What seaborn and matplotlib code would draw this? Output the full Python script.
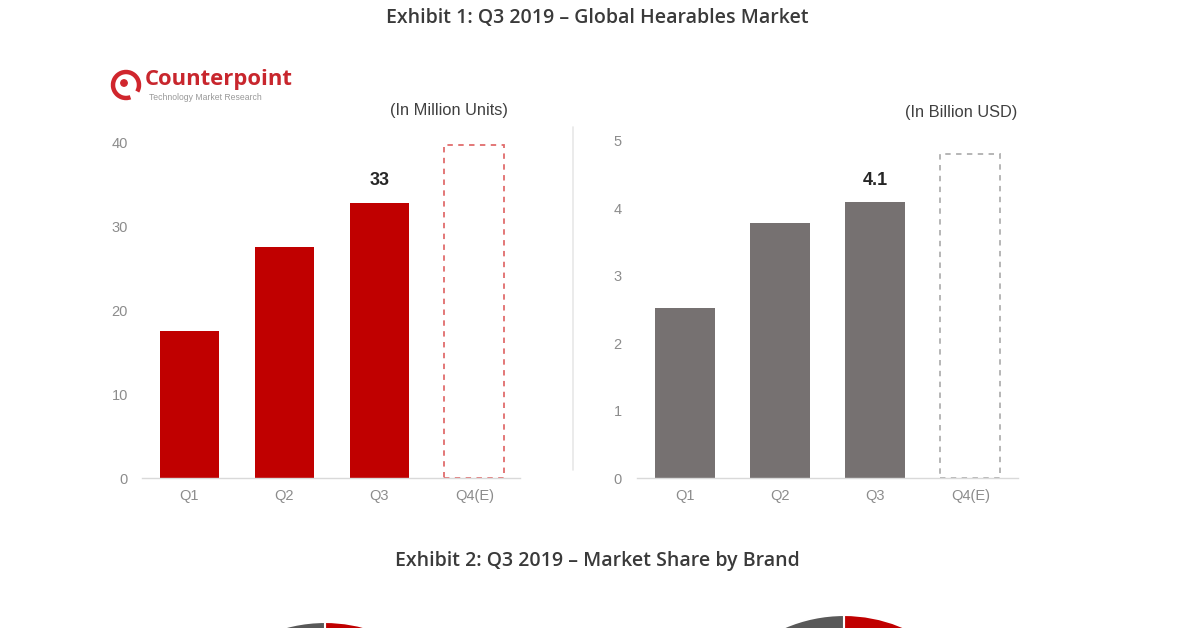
import matplotlib
matplotlib.use("Agg")
import matplotlib.pyplot as plt
import seaborn as sns
import pandas as pd
from matplotlib.patches import Arc, Circle
from matplotlib.lines import Line2D

# ---------------- data ----------------
quarters = ["Q1", "Q2", "Q3", "Q4(E)"]
units_million = [17.5, 27.5, 32.7, 39.6]
revenue_billion = [2.52, 3.78, 4.1, 4.8]
units_label = ["", "", "33", ""]
revenue_label = ["", "", "4.1", ""]
units_ticks = [0, 10, 20, 30, 40]
revenue_ticks = [0, 1, 2, 3, 4, 5]
share_units = [45, 55]      # red brand, grey rest (only the top of the pie is visible)
share_revenue = [48, 52]

RED = "#c00000"
GREY = "#767171"

sns.set_theme(style="white")
plt.rcParams["font.family"] = ["Liberation Sans", "DejaVu Sans"]

W, H = 1200, 628
fig = plt.figure(figsize=(W / 100, H / 100), dpi=100)
fig.patch.set_facecolor("white")


def px_axes(x0, y0, x1, y1):
    return fig.add_axes([x0 / W, 1 - y1 / H, (x1 - x0) / W, (y1 - y0) / H])


def bar_panel(ax, values, labels, ticks, color, outline, ylim, pad_x, pad_lbl):
    df = pd.DataFrame({"q": quarters, "v": values})
    sns.barplot(data=df, x="q", y="v", color=color, width=0.63, saturation=1,
                ax=ax, edgecolor=color, linewidth=0)
    last = ax.patches[3]
    last.set_facecolor("none")
    last.set_edgecolor(outline)
    last.set_linewidth(1.3)
    last.set_linestyle((0, (3, 3)))
    ax.bar_label(ax.containers[0], labels=labels, padding=pad_lbl,
                 fontsize=13, fontweight="bold", color="#262626")
    ax.set_xlim(-0.5, 3.48)
    ax.set_ylim(*ylim)
    ax.set_yticks(ticks)
    ax.set_xlabel("")
    ax.set_ylabel("")
    for s in ["left", "right", "top"]:
        ax.spines[s].set_visible(False)
    ax.spines["bottom"].set_color("#d9d9d9")
    ax.spines["bottom"].set_linewidth(1.0)
    ax.tick_params(axis="y", length=0, pad=pad_x, labelsize=10.5, labelcolor="#8c8c8c")
    ax.tick_params(axis="x", length=0, pad=8, labelsize=10.5, labelcolor="#8c8c8c")
    ax.set_facecolor("none")


ax1 = px_axes(142, 142, 520, 478)
bar_panel(ax1, units_million, units_label, units_ticks, RED, "#e06c6c", (0, 40), 10, 10)

ax2 = px_axes(637, 141, 1018, 478)
bar_panel(ax2, revenue_billion, revenue_label, revenue_ticks, GREY, "#b0b0b0", (0, 5), 11, 9)
ax2.set_xlim(-0.5, 3.5)

# divider
fig.add_artist(Line2D([573 / W, 573 / W], [1 - 127 / H, 1 - 470 / H],
                      color="#e8e8e8", lw=1.2, transform=fig.transFigure))

# titles
fig.text(597 / W, 1 - 18 / H, "Exhibit 1: Q3 2019 \u2013 Global Hearables Market",
         ha="center", va="center", fontsize=14, fontweight="semibold",
         color="#3a3a3a", family=["Open Sans", "DejaVu Sans"])
fig.text(597 / W, 1 - 561 / H, "Exhibit 2: Q3 2019 \u2013 Market Share by Brand",
         ha="center", va="center", fontsize=14, fontweight="semibold",
         color="#3a3a3a", family=["Open Sans", "DejaVu Sans"])

# unit notes
fig.text(508 / W, 1 - 110 / H, "(In Million Units)", ha="right", va="center",
         fontsize=11.8, color="#404040")
fig.text(1017 / W, 1 - 112 / H, "(In Billion USD)", ha="right", va="center",
         fontsize=11.8, color="#404040")

# logo
lax = px_axes(100, 60, 300, 110)
lax.set_xlim(100, 300)
lax.set_ylim(110, 60)
lax.axis("off")
lax.add_patch(Arc((126, 85), 26, 26, theta1=70, theta2=390, color="#d0262d", lw=3.2))
lax.add_patch(Circle((124, 83), 3.2, color="#d0262d"))
lax.text(145, 80, "Counterpoint", ha="left", va="center", fontsize=15.8,
         fontweight="bold", color="#c8262d", family=["Open Sans", "DejaVu Sans"])
lax.text(149, 97, "Technology Market Research", ha="left", va="center",
         fontsize=6.2, color="#999999")

# pies (only the tops are visible)
for (cx, cy, r, vals) in [(325, 772, 150, share_units), (844, 765, 150, share_revenue)]:
    pax = px_axes(cx - r, cy - r, cx + r, cy + r)
    pax.pie(vals, colors=[RED, "#595959"], startangle=90, counterclock=False,
            wedgeprops=dict(edgecolor="white", linewidth=1.5))
    pax.set_aspect("equal")
    pax.set_xlim(-1, 1)
    pax.set_ylim(-1, 1)
    pax.axis("off")

fig.savefig("out.png", dpi=100, facecolor="white")
